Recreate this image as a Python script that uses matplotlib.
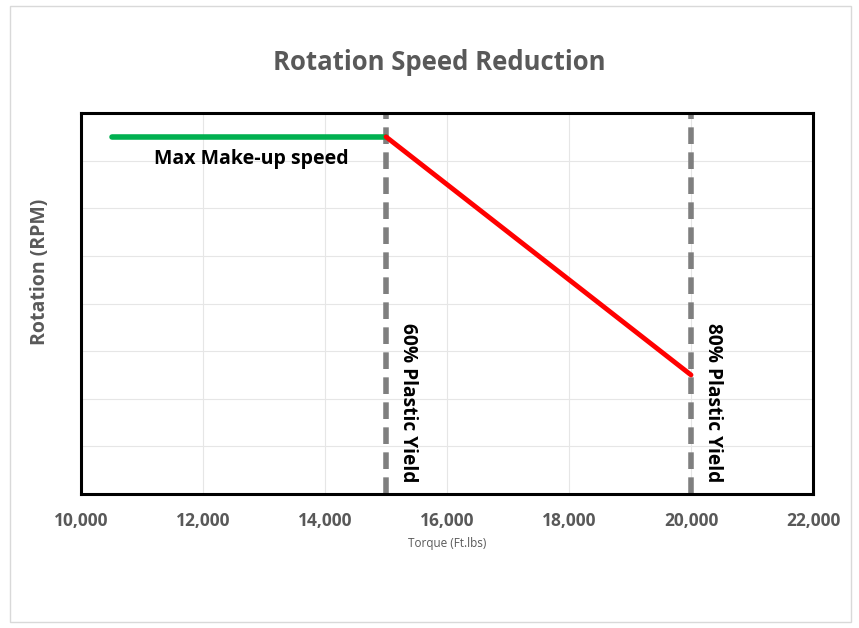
import matplotlib.pyplot as plt
from matplotlib.ticker import FuncFormatter
from matplotlib.patches import Rectangle

# data
green_x = [10500, 15000]
green_y = [7.5, 7.5]
red_x = [15000, 20000]
red_y = [7.5, 2.5]
yield_x = [15000, 20000]
yield_labels = ['60% Plastic Yield', '80% Plastic Yield']

plt.rcParams['font.family'] = ['Open Sans', 'DejaVu Sans']

fig = plt.figure(figsize=(8.59, 6.28), dpi=100)
fig.patches.append(Rectangle((10 / 859, 6 / 628), 841 / 859, 616 / 628, transform=fig.transFigure,
                             fill=False, edgecolor='#d9d9d9', linewidth=1))
ax = fig.add_axes([81 / 859, 1 - 494 / 628, 732 / 859, 381 / 628])

ax.set_xlim(10000, 22000)
ax.set_ylim(0, 8)
ax.set_xticks(range(10000, 22001, 2000))
ax.set_yticks(range(0, 9))
ax.set_yticklabels([])
ax.tick_params(axis='y', length=0)
ax.tick_params(axis='x', length=0, pad=13, labelsize=12.5, labelcolor='#595959')
for lab in ax.get_xticklabels():
    lab.set_fontweight('bold')
ax.xaxis.set_major_formatter(FuncFormatter(lambda v, p: f'{int(v):,}'))
ax.grid(True, color='#e6e6e6', linewidth=0.8)
ax.set_axisbelow(True)
for s in ax.spines.values():
    s.set_linewidth(2.2)
    s.set_color('black')

ax.plot(green_x, green_y, color='#00b050', linewidth=4, solid_capstyle='round', zorder=3)
ax.plot(red_x, red_y, color='#ff0000', linewidth=3.5, solid_capstyle='round', zorder=3)
for xv, lab in zip(yield_x, yield_labels):
    ax.axvline(xv, color='#7f7f7f', linewidth=4, linestyle=(0, (3, 1.5)), zorder=2)
    ax.text(xv + 200, 3.6, lab, rotation=-90, ha='left', va='top', fontsize=13.8,
            fontweight='bold', color='black')

ax.text(12800, 7.03, 'Max Make-up speed', ha='center', va='center', fontsize=14,
        fontweight='bold', color='black')

fig.text(439 / 859, 1 - 62 / 628, 'Rotation Speed Reduction', ha='center', va='center',
         fontsize=18.5, fontweight='bold', color='#595959')
ax.set_xlabel('Torque (Ft.lbs)', fontsize=8.5, color='#595959', labelpad=5)
ax.set_ylabel('Rotation (RPM)', fontsize=14, fontweight='bold', color='#595959')
ax.yaxis.set_label_coords(-0.042, (494 - 272) / 381)

fig.savefig('out.png', dpi=100)
